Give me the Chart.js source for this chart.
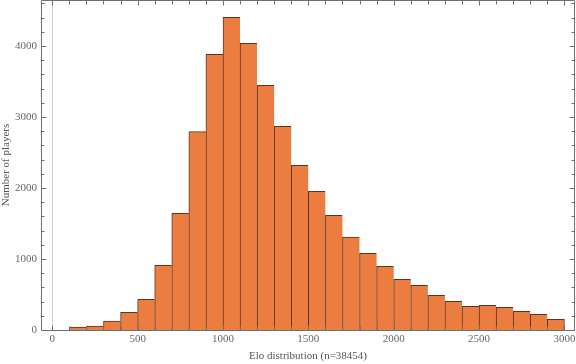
<!DOCTYPE html>
<html>
<head>
<meta charset="utf-8">
<script src="https://cdn.jsdelivr.net/npm/chart.js@4.4.1/dist/chart.umd.min.js"></script>
<style>
    html, body { margin: 0; padding: 0; background: #fff; }
    #wrap { width: 576px; height: 364px; }
</style>
</head>
<body>
<div id="wrap"><canvas id="eloChart" width="576" height="364"></canvas></div>
<script>
// Histogram bins (start of each 100-wide Elo bin) and player counts
const binStarts = [100, 200, 300, 400, 500, 600, 700, 800, 900, 1000,
    1100, 1200, 1300, 1400, 1500, 1600, 1700, 1800, 1900, 2000,
    2100, 2200, 2300, 2400, 2500, 2600, 2700, 2800, 2900];
const playerCounts = [40, 56, 127, 249, 432, 911, 1643, 2793, 3883, 4404,
    4038, 3446, 2869, 2320, 1953, 1615, 1310, 1080, 897, 714,
    629, 490, 404, 333, 347, 319, 263, 221, 150];
const binWidth = 100;

const xTickValues = [0, 500, 1000, 1500, 2000, 2500, 3000];
const yTickValues = [0, 1000, 2000, 3000, 4000];

const xTitle = 'Elo distribution (n=38454)';
const yTitle = 'Number of players';

const serif = "'Liberation Serif', 'DejaVu Serif', serif";

// frame with inward ticks, like a Mathematica plot
const framePlugin = {
    id: 'frame',
    beforeDatasetsDraw(chart) {
        const { ctx, chartArea: a, scales: { x } } = chart;
        const zx = Math.round(x.getPixelForValue(0)) + 0.5;
        ctx.save();
        ctx.strokeStyle = '#cfcfcf';
        ctx.lineWidth = 1;
        ctx.beginPath();
        ctx.moveTo(zx, a.top);
        ctx.lineTo(zx, a.bottom);
        ctx.stroke();
        ctx.restore();
    },
    afterDatasetsDraw(chart) {
        const { ctx, chartArea: a, scales: { x, y } } = chart;
        const L = a.left + 0.5, R = a.right - 0.5, T = a.top + 0.5, B = a.bottom + 0.5;
        ctx.save();
        ctx.strokeStyle = '#707070';
        ctx.lineWidth = 1;
        ctx.beginPath();
        ctx.rect(L, T, R - L, B - T);
        for (let v = 0; v <= y.max; v += 200) {
            const py = Math.round(y.getPixelForValue(v)) + 0.5;
            const len = v % 1000 === 0 ? 5 : 3;
            ctx.moveTo(L, py); ctx.lineTo(L + len, py);
            ctx.moveTo(R, py); ctx.lineTo(R - len, py);
        }
        for (let v = 0; v <= x.max; v += 100) {
            const px = Math.round(x.getPixelForValue(v)) + 0.5;
            const len = v % 500 === 0 ? 5 : 4;
            ctx.moveTo(px, T); ctx.lineTo(px, T + len);
            ctx.moveTo(px, B); ctx.lineTo(px, B - len);
        }
        ctx.stroke();
        ctx.restore();
    }
};

const lastIdx = binStarts.length - 1;

new Chart(document.getElementById('eloChart'), {
    type: 'bar',
    data: {
        datasets: [{
            data: binStarts.map((s, i) => ({ x: s + binWidth / 2, y: playerCounts[i] })),
            backgroundColor: '#EC7D40',
            borderColor: '#5a3522',
            borderWidth: (c) => ({ top: 1, left: 1, bottom: 0, right: c.dataIndex === lastIdx ? 1 : 0 }),
            borderSkipped: false,
            barPercentage: 1,
            categoryPercentage: 1
        }]
    },
    options: {
        responsive: false,
        animation: false,
        devicePixelRatio: 1,
        layout: { padding: { top: 0, right: 1, left: 0, bottom: 0 } },
        plugins: {
            legend: { display: false },
            tooltip: { enabled: false }
        },
        scales: {
            x: {
                type: 'linear',
                min: -66,
                max: 3062,
                offset: false,
                grid: { display: false, drawTicks: false },
                border: { display: false },
                afterBuildTicks: (s) => { s.ticks = xTickValues.map(v => ({ value: v })); },
                afterFit: (s) => { s.height = 34; s.paddingLeft = 0; s.paddingRight = 0; },
                ticks: {
                    color: '#666',
                    font: { family: serif, size: 11 },
                    padding: 3,
                    maxRotation: 0,
                    autoSkip: false,
                    callback: (v) => String(v)
                },
                title: {
                    display: true,
                    text: xTitle,
                    color: '#555',
                    font: { family: serif, size: 11 },
                    padding: { top: 0, bottom: 1 }
                }
            },
            y: {
                min: 0,
                max: 4648,
                grid: { display: false, drawTicks: false },
                border: { display: false },
                afterBuildTicks: (s) => { s.ticks = yTickValues.map(v => ({ value: v })); },
                afterFit: (s) => { s.width = 41; s.paddingTop = 0; s.paddingBottom = 0; },
                ticks: {
                    color: '#666',
                    font: { family: serif, size: 11 },
                    padding: 4,
                    callback: (v) => String(v)
                },
                title: {
                    display: true,
                    text: yTitle,
                    color: '#555',
                    font: { family: serif, size: 11 },
                    padding: 0
                }
            }
        }
    },
    plugins: [framePlugin]
});
</script>
</body>
</html>
